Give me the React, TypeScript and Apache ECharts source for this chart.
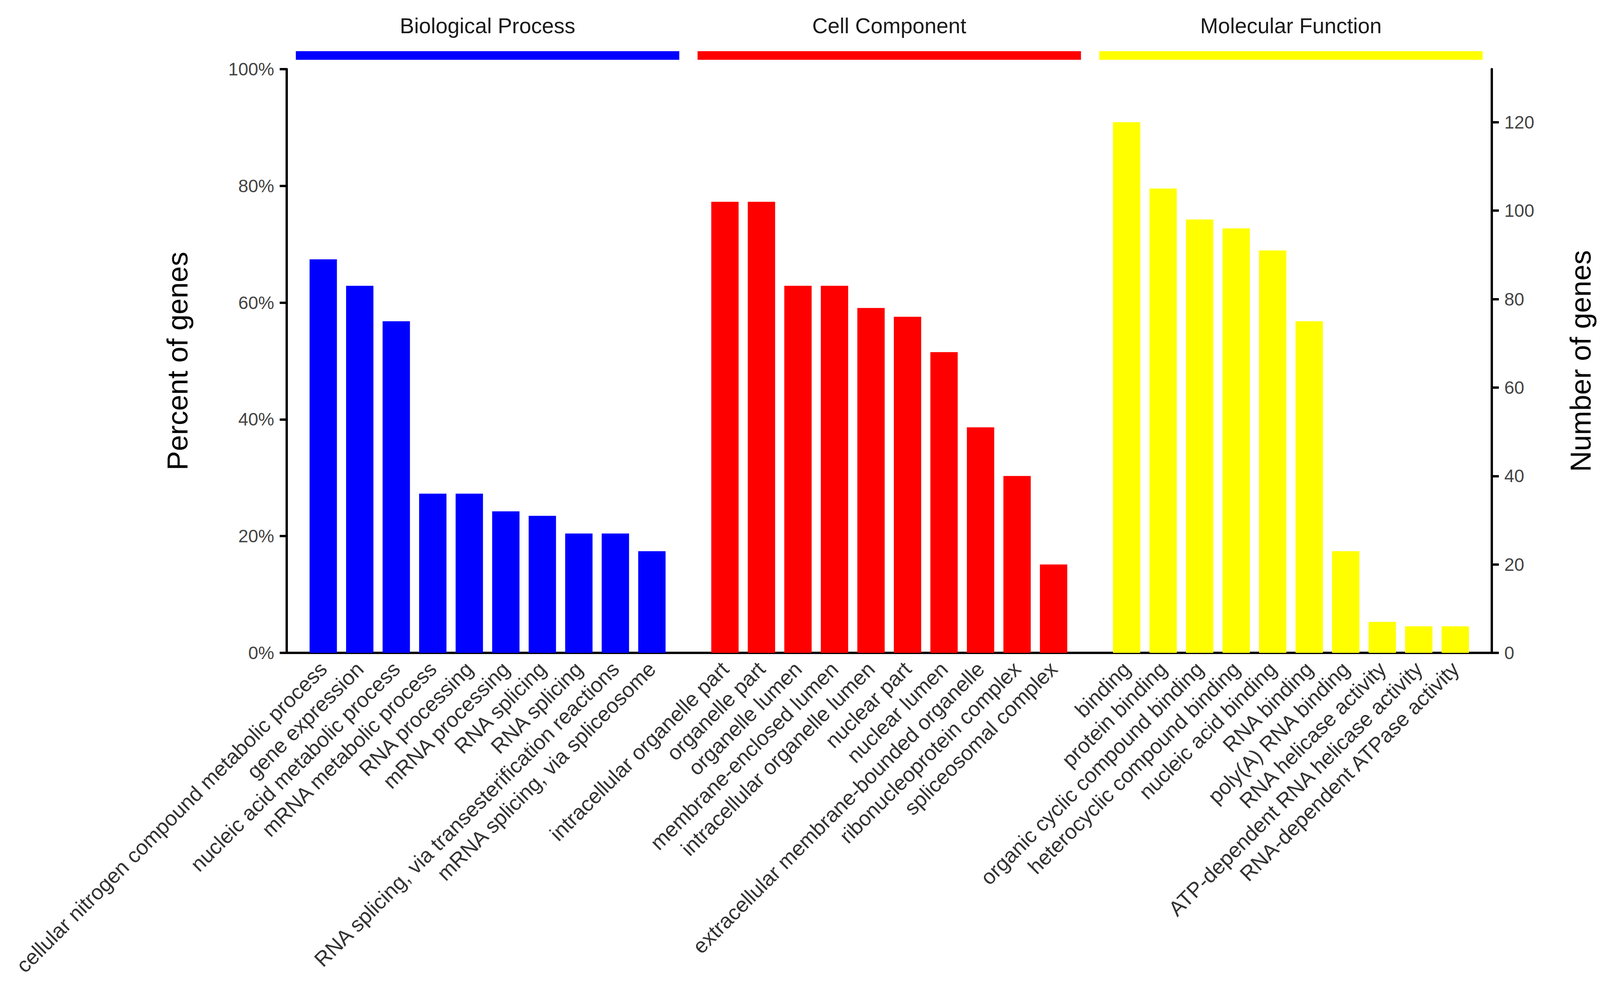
import React, { useEffect, useRef } from 'react';
import * as echarts from 'echarts';

const TOTAL_GENES = 132;

const GROUP_NAMES = ['Biological Process', 'Cell Component', 'Molecular Function'];
const GROUP_COLORS = ['#0000FF', '#FF0000', '#FFFF00'];

const BP_TERMS = [
  'cellular nitrogen compound metabolic process',
  'gene expression',
  'nucleic acid metabolic process',
  'mRNA metabolic process',
  'RNA processing',
  'mRNA processing',
  'RNA splicing',
  'RNA splicing',
  'RNA splicing, via transesterification reactions',
  'mRNA splicing, via spliceosome',
];
const BP_COUNTS = [89, 83, 75, 36, 36, 32, 31, 27, 27, 23];

const CC_TERMS = [
  'intracellular organelle part',
  'organelle part',
  'organelle lumen',
  'membrane-enclosed lumen',
  'intracellular organelle lumen',
  'nuclear part',
  'nuclear lumen',
  'extracellular membrane-bounded organelle',
  'ribonucleoprotein complex',
  'spliceosomal complex',
];
const CC_COUNTS = [102, 102, 83, 83, 78, 76, 68, 51, 40, 20];

const MF_TERMS = [
  'binding',
  'protein binding',
  'organic cyclic compound binding',
  'heterocyclic compound binding',
  'nucleic acid binding',
  'RNA binding',
  'poly(A) RNA binding',
  'RNA helicase activity',
  'ATP-dependent RNA helicase activity',
  'RNA-dependent ATPase activity',
];
const MF_COUNTS = [120, 105, 98, 96, 91, 75, 23, 7, 6, 6];

const PERCENT_TICKS = [0, 20, 40, 60, 80, 100];
const COUNT_TICKS = [0, 20, 40, 60, 80, 100, 120];

const FONT = '"Liberation Sans", Arial, Helvetica, sans-serif';

export default function App() {
  const ref = useRef<HTMLDivElement>(null);

  useEffect(() => {
    if (!ref.current) return;
    const chart = echarts.init(ref.current, undefined, { renderer: 'svg' });

    const groups = [
      { terms: BP_TERMS, counts: BP_COUNTS },
      { terms: CC_TERMS, counts: CC_COUNTS },
      { terms: MF_TERMS, counts: MF_COUNTS },
    ];

    // Category list with empty spacer slots: '', BP..., '', CC..., '', MF..., ''
    const categories: string[] = [''];
    const ranges: { first: number; last: number }[] = [];
    groups.forEach((g) => {
      const first = categories.length;
      g.terms.forEach((t) => categories.push(t));
      ranges.push({ first, last: categories.length - 1 });
      categories.push('');
    });

    const series = groups.map((g, gi) => {
      const data: (number | string)[] = categories.map(() => '-');
      g.counts.forEach((c, i) => {
        data[ranges[gi].first + i] = c;
      });
      return {
        name: GROUP_NAMES[gi],
        type: 'bar',
        stack: 'all',
        yAxisIndex: 1,
        barWidth: 70,
        itemStyle: { color: GROUP_COLORS[gi] },
        data,
      };
    });

    const axisLine = { show: true, onZero: false, lineStyle: { color: '#000', width: 6 } };

    chart.setOption({
      animation: false,
      backgroundColor: '#fff',
      textStyle: { fontFamily: FONT },
      grid: {
        left: 734,
        right: 305,
        top: 177,
        bottom: 868,
        containLabel: false,
        outerBoundsMode: 'none',
      },
      xAxis: {
        type: 'category',
        data: categories,
        boundaryGap: false,
        axisLine,
        axisTick: { show: false },
        splitLine: { show: false },
        axisLabel: {
          interval: 0,
          rotate: 45,
          fontSize: 54,
          color: '#333',
          margin: 32,
          fontFamily: FONT,
        },
      },
      yAxis: [
        {
          type: 'value',
          position: 'left',
          min: 0,
          max: 100,
          interval: 20,
          name: 'Percent of genes',
          nameLocation: 'middle',
          nameRotate: 90,
          nameGap: 243,
          nameTextStyle: { fontSize: 74, color: '#000', fontFamily: FONT },
          axisLine,
          axisTick: { show: true, inside: false, length: 18, lineStyle: { color: '#000', width: 6 } },
          splitLine: { show: false },
          axisLabel: {
            formatter: '{value}%',
            fontSize: 46,
            color: '#444',
            margin: 32,
            fontFamily: FONT,
            customValues: PERCENT_TICKS,
          },
        },
        {
          type: 'value',
          position: 'right',
          min: 0,
          max: TOTAL_GENES,
          interval: 20,
          name: 'Number of genes',
          nameLocation: 'middle',
          nameRotate: 90,
          nameGap: 190,
          nameTextStyle: { fontSize: 74, color: '#000', fontFamily: FONT },
          axisLine,
          axisTick: {
            show: true,
            inside: false,
            length: 18,
            lineStyle: { color: '#000', width: 6 },
            customValues: COUNT_TICKS,
          },
          splitLine: { show: false },
          axisLabel: {
            fontSize: 46,
            color: '#444',
            margin: 32,
            fontFamily: FONT,
            customValues: COUNT_TICKS,
          },
        },
      ],
      series,
    });

    // Group header bars and titles, positioned from the category axis
    const px = (idx: number) => chart.convertToPixel({ xAxisIndex: 0 }, idx) as number;
    const pitch = px(2) - px(1);
    const graphics: any[] = [];
    ranges.forEach((r, gi) => {
      const x0 = px(r.first) - 0.75 * pitch;
      const x1 = px(r.last) + 0.75 * pitch;
      graphics.push({
        type: 'rect',
        shape: { x: x0, y: 131, width: x1 - x0, height: 22 },
        style: { fill: GROUP_COLORS[gi] },
        silent: true,
      });
      graphics.push({
        type: 'text',
        x: (x0 + x1) / 2,
        y: 66,
        style: {
          text: GROUP_NAMES[gi],
          fontSize: 55,
          fontFamily: FONT,
          fill: '#1a1a1a',
          align: 'center',
          verticalAlign: 'middle',
        },
        silent: true,
      });
    });
    chart.setOption({ graphic: graphics });

    return () => chart.dispose();
  }, []);

  return (
    <div
      ref={ref}
      style={{ position: 'fixed', left: 0, top: 0, width: 4124, height: 2539, background: '#fff' }}
    />
  );
}
